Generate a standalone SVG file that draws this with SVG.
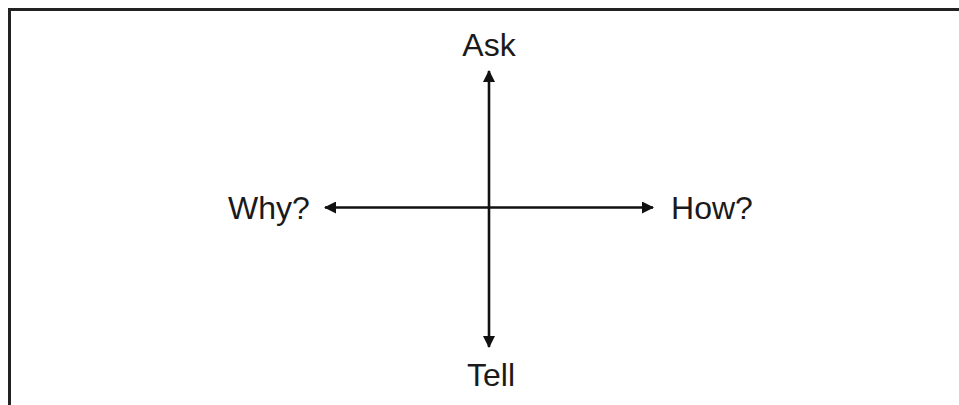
<svg xmlns="http://www.w3.org/2000/svg" width="959" height="405" viewBox="0 0 959 405">
<style>
.lbl{font-family:"Liberation Sans",Arial,sans-serif;font-size:32px;fill:#1a1a1a;text-anchor:middle}
.ax{stroke:#111;stroke-width:2.6;fill:none}
</style>
<defs>
<marker id="ah" viewBox="0 0 12 12" refX="11" refY="6" markerWidth="12" markerHeight="12" markerUnits="userSpaceOnUse" orient="auto-start-reverse">
<path d="M0,0 L12,6 L0,12 Z" fill="#111"/>
</marker>
</defs>
<rect width="959" height="405" fill="#fff"/>
<path d="M9.5,405 V9.5 H959" stroke="#222" stroke-width="3" fill="none"/>
<g id="connectors">
<line class="ax" x1="489" y1="71" x2="489" y2="347" marker-start="url(#ah)" marker-end="url(#ah)"/>
<line class="ax" x1="325" y1="207.5" x2="653" y2="207.5" marker-start="url(#ah)" marker-end="url(#ah)"/>
</g>
<g id="ask"><text class="lbl" x="489" y="56">Ask</text></g>
<g id="tell"><text class="lbl" x="491" y="386">Tell</text></g>
<g id="why"><text class="lbl" x="269" y="219">Why?</text></g>
<g id="how"><text class="lbl" x="712" y="219">How?</text></g>
</svg>
